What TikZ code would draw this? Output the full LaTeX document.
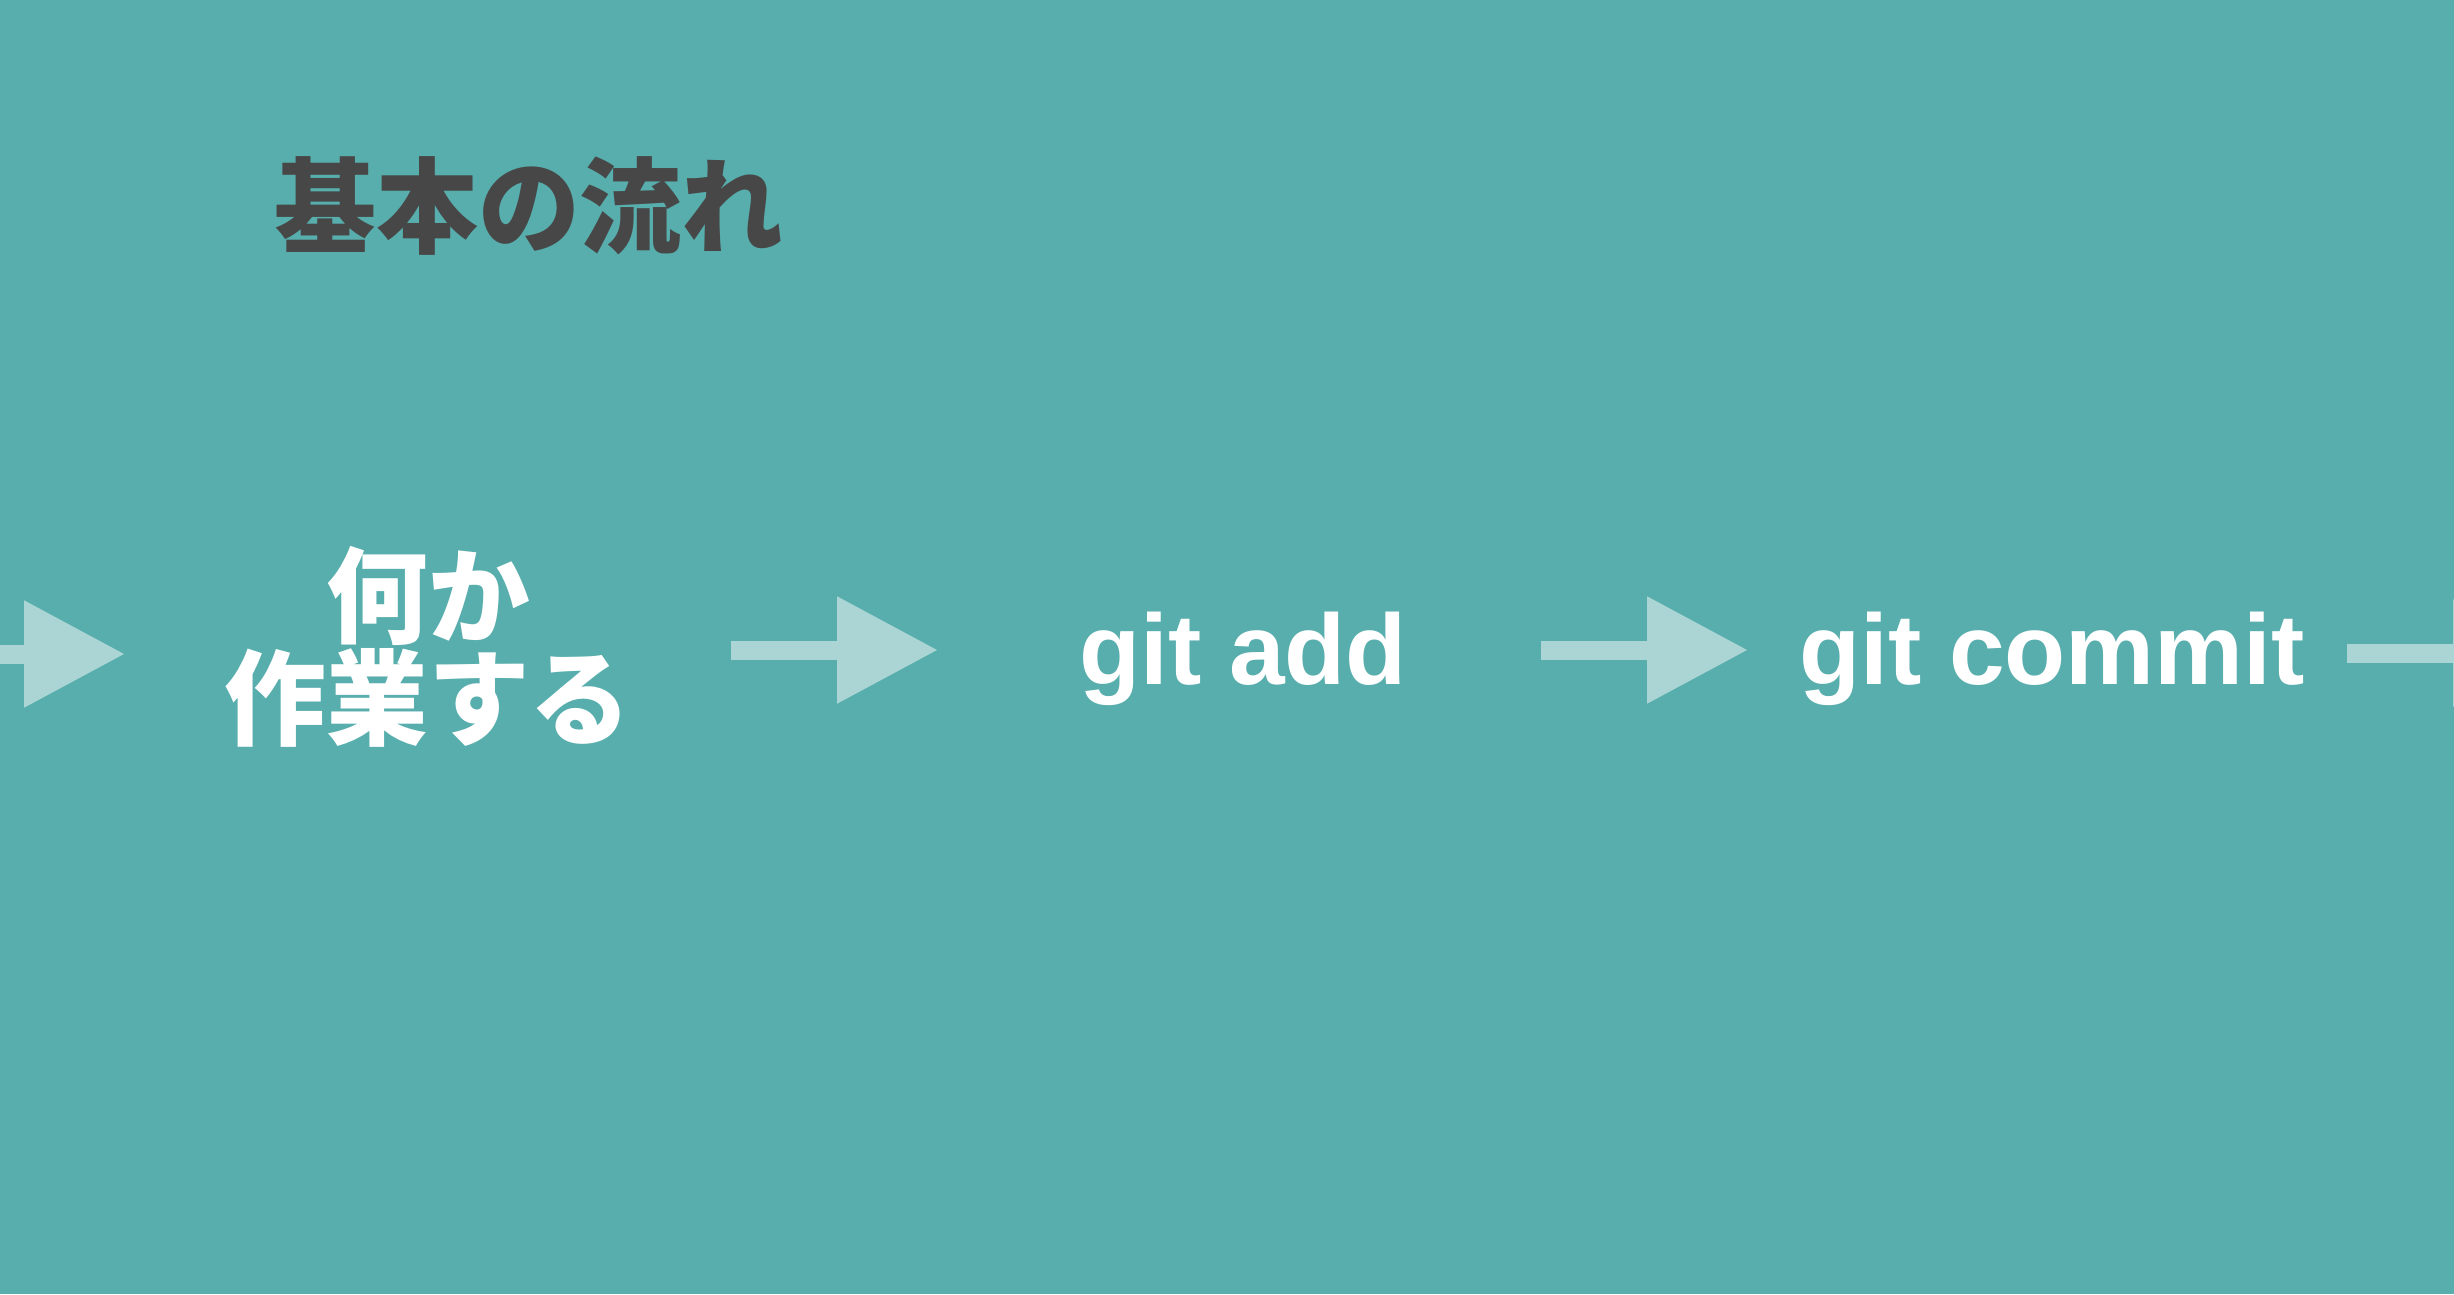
\documentclass[tikz,border=0pt]{standalone}
\usepackage{fontspec}
\setmainfont{Liberation Sans}
\newfontfamily\jpfont{Noto Sans CJK JP}
\usetikzlibrary{arrows.meta}
\usepackage{xcolor}
\definecolor{bgteal}{HTML}{58AEAD}
\definecolor{titlegray}{HTML}{474747}
\definecolor{arrowfill}{HTML}{AAD5D4}

\tikzset{
  stepflow/.style={line width=19pt, arrowfill,
    -{Triangle[length=101pt, width=102pt]}},
  jplabel/.style={inner sep=0pt, text=white, align=center,
    xscale=0.978, transform shape,
    font=\jpfont\bfseries\fontsize{104}{102}\selectfont},
  gitlabel/.style={inner sep=0pt, text=white, anchor=base,
    font=\bfseries\fontsize{100}{100}\selectfont},
}

\begin{document}
\begin{tikzpicture}[x=1pt, y=-1pt]
  % --- background ---
  \useasboundingbox (0,0) rectangle (2454,1294);
  \fill[bgteal] (0,0) rectangle (2454,1294);
  \clip (0,0) rectangle (2454,1294);

  % --- title ---
  \node[inner sep=0pt, text=titlegray, xscale=0.98, transform shape,
    font=\jpfont\bfseries\fontsize{104}{104}\selectfont]
    (title) at (529,206) {基本の流れ};

  % --- steps ---
  \node[jplabel] (work) at (428,647) {何か\\作業する};
  \node[gitlabel] (gitadd) at (1243,684) {git add};
  \node[gitlabel] (gitcommit) at (2052,684) {git commit};

  % --- arrows (the outer two run off the page) ---
  \coordinate (a0s) at (-83,654);  \coordinate (a0e) at (125,654);
  \coordinate (a1s) at (731,650);  \coordinate (a1e) at (938,650);
  \coordinate (a2s) at (1541,650); \coordinate (a2e) at (1748,650);
  \coordinate (a3s) at (2347,653); \coordinate (a3e) at (2554,653);
  \foreach \n in {0,1,2,3} {
    \draw[stepflow] (a\n s) -- (a\n e);
  }
\end{tikzpicture}
\end{document}
